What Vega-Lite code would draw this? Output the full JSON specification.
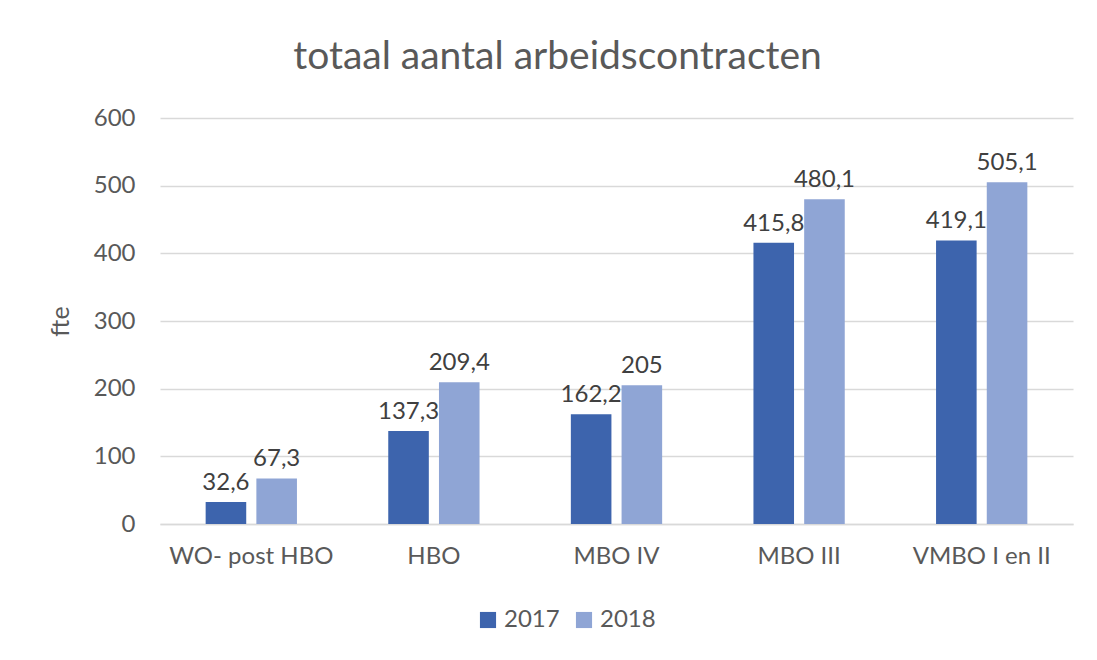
{
  "$schema": "https://vega.github.io/schema/vega-lite/v6.json",
  "width": 913,
  "height": 406,
  "autosize": {"type": "none"},
  "padding": {"left": 160, "top": 118, "right": 24, "bottom": 136},
  "background": "white",
  "title": {
    "text": "totaal aantal arbeidscontracten",
    "anchor": "middle",
    "fontSize": 39,
    "font": "Lato",
    "fontWeight": "normal",
    "color": "#595959",
    "offset": 29,
    "dx": -59
  },
  "config": {
    "view": {"stroke": null}
  },
  "data": {
    "values": [
      {"cat": "WO- post HBO", "year": "2017", "fte": 32.6, "label": "32,6"},
      {"cat": "WO- post HBO", "year": "2018", "fte": 67.3, "label": "67,3"},
      {"cat": "HBO", "year": "2017", "fte": 137.3, "label": "137,3"},
      {"cat": "HBO", "year": "2018", "fte": 209.4, "label": "209,4"},
      {"cat": "MBO IV", "year": "2017", "fte": 162.2, "label": "162,2"},
      {"cat": "MBO IV", "year": "2018", "fte": 205, "label": "205"},
      {"cat": "MBO III", "year": "2017", "fte": 415.8, "label": "415,8"},
      {"cat": "MBO III", "year": "2018", "fte": 480.1, "label": "480,1"},
      {"cat": "VMBO I en II", "year": "2017", "fte": 419.1, "label": "419,1"},
      {"cat": "VMBO I en II", "year": "2018", "fte": 505.1, "label": "505,1"}
    ]
  },
  "encoding": {
    "x": {
      "field": "cat",
      "type": "nominal",
      "sort": null,
      "scale": {"paddingInner": 0.5, "paddingOuter": 0.25},
      "axis": {
        "title": null,
        "labelAngle": 0,
        "labelFontSize": 24,
        "labelFont": "Lato",
        "labelColor": "#595959",
        "labelPadding": 20,
        "ticks": false,
        "domainColor": "#d9d9d9",
        "domainWidth": 1.5
      }
    },
    "xOffset": {"field": "year", "type": "nominal", "scale": {"paddingInner": 0.2}},
    "y": {
      "field": "fte",
      "type": "quantitative",
      "scale": {"domain": [0, 600]},
      "axis": {
        "title": "fte",
        "titleFontSize": 25,
        "titleFont": "Lato",
        "titleFontWeight": "normal",
        "titleColor": "#595959",
        "titlePadding": 20,
        "values": [0, 100, 200, 300, 400, 500, 600],
        "labelFontSize": 24,
        "labelFont": "Lato",
        "labelColor": "#595959",
        "labelPadding": 25,
        "ticks": false,
        "domain": false,
        "gridColor": "#d9d9d9",
        "gridWidth": 1.5
      }
    }
  },
  "layer": [
    {
      "mark": {"type": "bar"},
      "encoding": {
        "color": {
          "field": "year",
          "type": "nominal",
          "scale": {"domain": ["2017", "2018"], "range": ["#3D64AD", "#8FA5D5"]},
          "legend": {
            "title": null,
            "orient": "none",
            "legendX": 316,
            "legendY": 490,
            "direction": "horizontal",
            "symbolType": "square",
            "symbolSize": 260,
            "symbolStrokeWidth": 0,
            "labelFontSize": 24,
            "labelFont": "Lato",
            "labelColor": "#595959",
            "columnPadding": 12
          }
        }
      }
    },
    {
      "mark": {"type": "text", "baseline": "bottom", "dy": -7, "fontSize": 24, "font": "Lato", "color": "#404040"},
      "encoding": {"text": {"field": "label"}}
    }
  ]
}
